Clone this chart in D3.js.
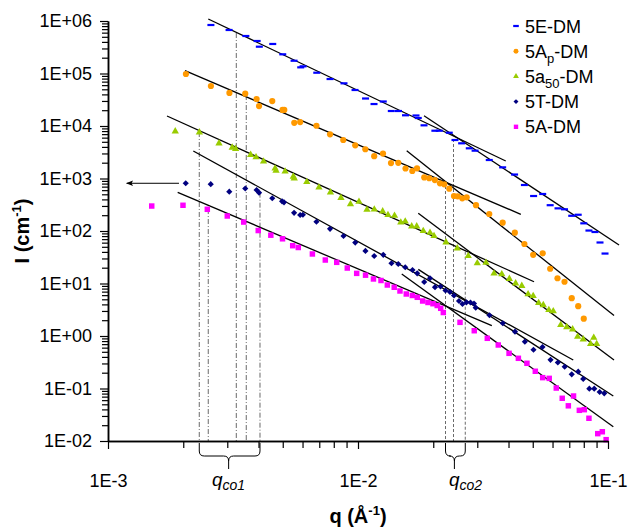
<!DOCTYPE html>
<html lang="en">
<head>
<meta charset="utf-8">
<title>saxs_loglog</title>
<script src="https://cdn.jsdelivr.net/npm/d3@7"></script>
<style>
  body { margin: 0; background: #fff; }
  svg { font-family: "Liberation Sans", Arial, sans-serif; }
</style>
</head>
<body>
<script>

// scattering curves, q in 1/Angstrom, I in 1/cm
var q5E = [2.58e-3, 3.05e-3, 3.56e-3, 3.95e-3, 4.03e-3, 4.56e-3, 5.00e-3, 5.55e-3, 5.90e-3, 6.03e-3,
    6.84e-3, 7.73e-3, 8.79e-3, 9.73e-3, 1.072e-2, 1.159e-2, 1.262e-2, 1.359e-2, 1.452e-2, 1.549e-2,
    1.706e-2, 1.742e-2, 1.837e-2, 2.03e-2, 2.114e-2, 2.318e-2, 2.443e-2, 2.598e-2, 2.787e-2, 2.94e-2,
    3.35e-2, 3.79e-2, 4.23e-2, 4.63e-2, 5.04e-2, 5.48e-2, 5.87e-2, 6.31e-2, 6.70e-2, 7.16e-2,
    7.60e-2, 8.0e-2, 8.39e-2, 8.87e-2, 9.29e-2, 9.73e-2];
var I5E = [8.39e5, 6.74e5, 5.18e5, 4.16e5, 3.24e5, 3.65e5, 2.32e5, 1.75e5, 1.31e5, 1.37e5,
    1.035e5, 7.85e4, 6.5e4, 4.85e4, 3.34e4, 2.62e4, 2.93e4, 1.93e4, 1.93e4, 1.6e4,
    1.585e4, 1.42e4, 1.03e4, 8.13e3, 8.13e3, 7.45e3, 5.41e3, 4.68e3, 3.76e3, 3.39e3,
    2.25e3, 1.63e3, 1.19e3, 752, 464, 507, 310, 270, 259, 195,
    204, 140, 102, 95.7, 60.4, 37.2];

var q5Ap = [2.05e-3, 2.58e-3, 3.06e-3, 3.54e-3, 3.93e-3, 4.02e-3, 4.54e-3, 4.99e-3, 5.07e-3, 5.56e-3,
    5.87e-3, 6.82e-3, 7.73e-3, 8.73e-3, 9.75e-3, 1.07e-2, 1.161e-2, 1.259e-2, 1.355e-2, 1.449e-2,
    1.549e-2, 1.649e-2, 1.722e-2, 1.841e-2, 1.928e-2, 2.03e-2, 2.128e-2, 2.214e-2, 2.318e-2, 2.421e-2,
    2.505e-2, 2.613e-2, 2.721e-2, 2.965e-2, 3.35e-2, 3.79e-2, 4.24e-2, 4.63e-2, 5.02e-2, 5.48e-2,
    5.87e-2, 6.28e-2, 6.70e-2, 7.16e-2, 7.60e-2, 8.0e-2];
var I5Ap = [9.78e4, 5.78e4, 4.26e4, 4.12e4, 3.27e4, 2.40e4, 2.99e4, 2.02e4, 2.02e4, 1.15e4,
    1.19e4, 1.01e4, 6.95e3, 5.41e3, 4.29e3, 3.61e3, 2.66e3, 2.99e3, 1.97e3, 1.99e3,
    1.55e3, 1.39e3, 1.56e3, 1.05e3, 1.01e3, 935, 811, 776, 640, 464,
    458, 420, 438, 310, 211, 144, 92.9, 56.5, 35.2, 37.6,
    19.1, 12.6, 10.8, 5.25, 3.70, 2.14];

var q5a50 = [1.858e-3, 2.32e-3, 2.78e-3, 3.14e-3, 3.24e-3, 3.72e-3, 3.91e-3, 4.19e-3, 4.66e-3, 4.70e-3,
    5.11e-3, 5.51e-3, 5.56e-3, 6.24e-3, 6.98e-3, 7.76e-3, 8.55e-3, 9.33e-3, 1.009e-2, 1.086e-2,
    1.162e-2, 1.255e-2, 1.318e-2, 1.400e-2, 1.483e-2, 1.545e-2, 1.640e-2, 1.717e-2, 1.824e-2, 1.941e-2,
    2.014e-2, 2.249e-2, 2.495e-2, 2.76e-2, 3.00e-2, 3.25e-2, 3.50e-2, 3.76e-2, 4.03e-2, 4.27e-2,
    4.52e-2, 4.79e-2, 5.02e-2, 5.28e-2, 5.51e-2, 5.80e-2, 6.04e-2, 6.47e-2, 6.84e-2, 7.22e-2,
    7.56e-2, 7.96e-2, 8.52e-2, 8.77e-2, 9.01e-2];
var I5a50 = [7.93e3, 7.59e3, 4.68e3, 3.89e3, 3.68e3, 2.83e3, 2.54e3, 2.11e3, 1.56e3, 1.41e3,
    1.36e3, 1.09e3, 1.01e3, 858, 674, 546, 429, 324, 361, 255,
    257, 237, 202, 196, 146, 152, 123, 123, 100, 92.8,
    80.3, 60.9, 46.8, 33.4, 24.3, 24.9, 15.6, 15.0, 12.3, 10.1,
    9.04, 6.25, 5.78, 4.25, 3.89, 3.13, 2.97, 1.62, 1.48, 1.34,
    0.97, 0.865, 0.704, 0.929, 0.704];

var q5T = [2.046e-3, 2.576e-3, 3.056e-3, 3.54e-3, 3.93e-3, 4.02e-3, 4.54e-3, 4.97e-3, 5.06e-3, 5.55e-3,
    5.87e-3, 6.02e-3, 6.82e-3, 7.73e-3, 8.75e-3, 9.75e-3, 1.071e-2, 1.161e-2, 1.262e-2, 1.361e-2,
    1.449e-2, 1.545e-2, 1.652e-2, 1.725e-2, 1.840e-2, 1.941e-2, 2.032e-2, 2.138e-2, 2.239e-2, 2.333e-2,
    2.421e-2, 2.535e-2, 2.618e-2, 2.716e-2, 2.818e-2, 2.911e-2, 2.957e-2, 3.357e-2, 3.794e-2, 4.246e-2,
    4.65e-2, 5.035e-2, 5.47e-2, 5.89e-2, 6.30e-2, 6.71e-2, 7.16e-2, 7.60e-2, 7.96e-2, 8.42e-2,
    8.81e-2, 9.26e-2, 9.66e-2];
var I5T = [811, 779, 561, 645, 604, 537, 420, 368, 352, 222,
    202, 204, 150, 110, 80.3, 60.1, 41.8, 33.4, 35.2, 24.3,
    23.5, 20.4, 18.1, 15.6, 10.7, 12.6, 8.50, 8.77, 7.36, 6.89,
    5.91, 4.64, 4.07, 4.38, 4.35, 4.16, 3.46, 2.48, 1.75, 1.21,
    0.779, 0.548, 0.617, 0.352, 0.313, 0.260, 0.186, 0.209, 0.152, 0.0991,
    0.0991, 0.0858, 0.0810];

var q5A = [1.496e-3, 1.995e-3, 2.496e-3, 3.00e-3, 3.49e-3, 3.99e-3, 4.48e-3, 4.99e-3, 5.48e-3, 5.77e-3,
    6.57e-3, 7.40e-3, 8.22e-3, 9.06e-3, 9.88e-3, 1.072e-2, 1.153e-2, 1.236e-2, 1.310e-2, 1.396e-2,
    1.472e-2, 1.560e-2, 1.649e-2, 1.726e-2, 1.814e-2, 1.905e-2, 1.995e-2, 2.074e-2, 2.142e-2, 2.194e-2,
    2.559e-2, 2.918e-2, 3.29e-2, 3.64e-2, 4.02e-2, 4.38e-2, 4.74e-2, 5.12e-2, 5.48e-2, 5.82e-2,
    6.21e-2, 6.56e-2, 6.94e-2, 7.28e-2, 7.68e-2, 8.04e-2, 8.39e-2, 9.10e-2, 9.49e-2, 9.83e-2];
var I5A = [299, 309, 259, 193, 148, 102, 83.2, 71.0, 52.5, 48.5,
    36.5, 28.0, 25.3, 19.7, 15.6, 14.4, 12.2, 11.4, 9.36, 8.47,
    7.20, 6.31, 5.91, 5.46, 4.64, 4.35, 4.12, 3.81, 3.37, 2.80,
    1.82, 1.26, 0.904, 0.674, 0.468, 0.376, 0.302, 0.213, 0.161, 0.156,
    0.102, 0.0651, 0.0468, 0.0720, 0.0384, 0.0395, 0.0271, 0.0138, 0.0150, 0.0106];

// power law fits, two per sample: [q start, I start, q end, I end]
var fitLines = [
    [2.518e-3, 1.09e6, 3.90e-2, 2154],
    [1.837e-2, 1.57e4, 0.1107, 54.1],
    [2.032e-3, 1.13e5, 4.48e-2, 208],
    [1.566e-2, 3387, 0.1057, 2.46],
    [1.722e-3, 1.55e4, 5.06e-2, 10.8],
    [1.742e-2, 217, 0.1057, 0.349],
    [2.194e-3, 3342, 7.26e-2, 0.349],
    [1.742e-2, 18.6, 0.105, 0.072],
    [1.90e-3, 546, 3.43e-2, 1.57],
    [1.496e-2, 15.2, 0.105, 0.0187]
];

// crossover positions
var qco1 = [2.318e-3, 2.518e-3, 3.26e-3, 3.573e-3, 4.055e-3];
var qco1Top = [7.69e3, 262, 5.91e5, 3.89e4, 537];
var qco2 = [2.239e-2, 2.41e-2, 2.686e-2];
var qco2Top = [719, 5.65e3, 40.3];

var arrowQ = [1.923e-3, 1.188e-3];
var arrowI = 811;

var xMajor = [1e-3, 1e-2, 1e-1];
var yMajor = [1e-2, 1e-1, 1e0, 1e1, 1e2, 1e3, 1e4, 1e5, 1e6];

var seriesNames = ["5E-DM", "5Ap-DM", "5a50-DM", "5T-DM", "5A-DM"];
var seriesColors = ["#0000ff", "#ff9900", "#99cc00", "#000080", "#ff00ff"];
var seriesShapes = ["dash", "circle", "triangle", "diamond", "square"];

var series = [
    d3.zip(q5E, I5E), d3.zip(q5Ap, I5Ap), d3.zip(q5a50, I5a50), d3.zip(q5T, I5T), d3.zip(q5A, I5A)
];

var W = 628, H = 530;
var x = d3.scaleLog().domain([1e-3, 1e-1]).range([108, 608]);
var y = d3.scaleLog().domain([1e-2, 1e6]).range([441, 21]);

var svg = d3.select("body").append("svg")
    .attr("width", W)
    .attr("height", H);

// crossover guides
var guides = svg.append("g").attr("stroke", "#444").attr("stroke-width", 0.8).attr("fill", "none");
guides.selectAll("line.co1")
    .data(d3.zip(qco1, qco1Top))
    .enter().append("line")
    .attr("class", "co1")
    .attr("x1", d => x(d[0])).attr("x2", d => x(d[0]))
    .attr("y1", d => y(d[1])).attr("y2", y(1e-2))
    .attr("stroke-dasharray", "5,2,1,2");
guides.selectAll("line.co2")
    .data(d3.zip(qco2, qco2Top))
    .enter().append("line")
    .attr("class", "co2")
    .attr("x1", d => x(d[0])).attr("x2", d => x(d[0]))
    .attr("y1", d => y(d[1])).attr("y2", y(1e-2))
    .attr("stroke-dasharray", "3,2");

// fit lines
svg.append("g").selectAll("line")
    .data(fitLines)
    .enter().append("line")
    .attr("x1", d => x(d[0])).attr("y1", d => y(d[1]))
    .attr("x2", d => x(d[2])).attr("y2", d => y(d[3]))
    .attr("stroke", "#000")
    .attr("stroke-width", 1.3);

// arrow pointing to the low-q axis
svg.append("defs").append("marker")
    .attr("id", "arr")
    .attr("viewBox", "0 0 10 10")
    .attr("refX", 9).attr("refY", 5)
    .attr("markerWidth", 8).attr("markerHeight", 7)
    .attr("markerUnits", "userSpaceOnUse")
    .attr("orient", "auto")
    .append("path")
    .attr("d", "M0,1 L10,5 L0,9 L2,5 Z")
    .attr("fill", "#000");
svg.append("line")
    .attr("x1", x(arrowQ[0])).attr("x2", x(arrowQ[1]))
    .attr("y1", y(arrowI)).attr("y2", y(arrowI))
    .attr("stroke", "#000").attr("stroke-width", 1)
    .attr("marker-end", "url(#arr)");

function marker(g, shape, color, k) {
    if (shape === "dash") {
        g.append("rect").attr("x", -3.5 * k).attr("y", -1.1).attr("width", 7 * k).attr("height", 2.2).attr("fill", color);
    } else if (shape === "circle") {
        g.append("circle").attr("r", 3.1 * k).attr("fill", color);
    } else if (shape === "triangle") {
        g.append("path").attr("d", d3.symbol(d3.symbolTriangle, 23 * k * k)).attr("fill", color);
    } else if (shape === "diamond") {
        g.append("path").attr("d", d3.symbol(d3.symbolSquare, 19 * k * k)).attr("transform", "rotate(45)").attr("fill", color);
    } else {
        g.append("path").attr("d", d3.symbol(d3.symbolSquare, 30 * k * k)).attr("fill", color);
    }
}

series.forEach(function (pts, i) {
    var g = svg.append("g");
    g.selectAll("g")
        .data(pts)
        .enter().append("g")
        .attr("transform", d => "translate(" + x(d[0]) + "," + y(d[1]) + ")")
        .each(function () { marker(d3.select(this), seriesShapes[i], seriesColors[i], 1); });
});

// axes
var fmtY = function (d) {
    var e = Math.round(Math.log10(d));
    return "1E" + (e < 0 ? "-" : "+") + String(Math.abs(e)).padStart(2, "0");
};
var fmtX = function (d) { return "1E" + Math.round(Math.log10(d)); };
var isMajor = d => Math.abs(Math.log10(d) - Math.round(Math.log10(d))) < 1e-6;

var yMinor = y.ticks().filter(d => !isMajor(d));
var xMinor = x.ticks().filter(d => !isMajor(d));

function styleAxis(g) {
    g.attr("font-family", null).attr("font-size", null);
    g.selectAll("path.domain").attr("stroke", "#000").attr("stroke-width", 1.5);
    g.selectAll(".tick line").attr("stroke", "#000").attr("stroke-width", 1.2);
    g.selectAll("text").attr("fill", "#000").style("font-size", "18px");
}

svg.append("g").attr("transform", "translate(108,0)")
    .call(d3.axisLeft(y).tickValues(yMinor).tickSize(6).tickSizeOuter(0).tickFormat(""))
    .call(styleAxis);
svg.append("g").attr("transform", "translate(108,0)")
    .call(d3.axisLeft(y).tickValues(yMajor).tickSize(8).tickSizeOuter(0).tickPadding(8).tickFormat(fmtY))
    .call(styleAxis);
svg.append("g").attr("transform", "translate(0,441)")
    .call(d3.axisBottom(x).tickValues(xMinor).tickSize(7).tickSizeOuter(0).tickFormat(""))
    .call(styleAxis);
svg.append("g").attr("transform", "translate(0,441)")
    .call(d3.axisBottom(x).tickValues(xMajor).tickSize(8).tickSizeOuter(0).tickPadding(25).tickFormat(fmtX))
    .call(styleAxis);

// braces under the crossover guides
function brace(xl, xr, xm) {
    var top = 443, mid = 456, bot = 469, r = 5;
    return "M" + xl + "," + top + " L" + xl + "," + (mid - r) +
        " Q" + xl + "," + mid + " " + (xl + r) + "," + mid +
        " L" + (xm - r) + "," + mid +
        " Q" + xm + "," + mid + " " + xm + "," + (mid + r) +
        " L" + xm + "," + bot +
        " M" + xm + "," + (mid + r) +
        " Q" + xm + "," + mid + " " + (xm + r) + "," + mid +
        " L" + (xr - r) + "," + mid +
        " Q" + xr + "," + mid + " " + xr + "," + (mid - r) +
        " L" + xr + "," + top;
}
var b1l = x(d3.min(qco1)), b1r = x(d3.max(qco1));
var b2l = x(d3.min(qco2)), b2r = x(d3.max(qco2));
svg.append("path").attr("d", brace(b1l, b1r, (b1l + b1r) / 2 - 1))
    .attr("fill", "none").attr("stroke", "#000").attr("stroke-width", 1);
svg.append("path").attr("d", brace(b2l, b2r, (b2l + b2r) / 2 - 1))
    .attr("fill", "none").attr("stroke", "#000").attr("stroke-width", 1);

function qLabel(xpos, sub) {
    var t = svg.append("text").attr("x", xpos).attr("y", 486)
        .attr("font-style", "italic").attr("font-size", 19).attr("fill", "#000");
    t.append("tspan").text("q");
    t.append("tspan").attr("dy", 4).attr("font-size", 14).text(sub);
}
qLabel(212, "co1");
qLabel(449, "co2");

// axis titles
var xt = svg.append("text").attr("x", 358).attr("y", 523)
    .attr("text-anchor", "middle").attr("font-weight", "bold").attr("font-size", 20);
xt.append("tspan").text("q (Å");
xt.append("tspan").attr("dy", -8).attr("font-size", 13).text("-1");
xt.append("tspan").attr("dy", 8).text(")");

var yt = svg.append("text").attr("transform", "translate(29,231) rotate(-90)")
    .attr("text-anchor", "middle").attr("font-weight", "bold").attr("font-size", 20);
yt.append("tspan").text("I (cm");
yt.append("tspan").attr("dy", -8).attr("font-size", 13).text("-1");
yt.append("tspan").attr("dy", 8).text(")");

// legend
var legendParts = [
    ["5E-DM", "", ""],
    ["5A", "p", "-DM"],
    ["5a", "50", "-DM"],
    ["5T-DM", "", ""],
    ["5A-DM", "", ""]
];
var leg = svg.append("g");
legendParts.forEach(function (p, i) {
    var cy = 26 + i * 25.2;
    var m = leg.append("g").attr("transform", "translate(516," + cy + ")");
    marker(m, seriesShapes[i], seriesColors[i], 0.8);
    var t = leg.append("text").attr("x", 525).attr("y", cy + 6.5).attr("font-size", 18).attr("fill", "#000");
    t.append("tspan").text(p[0]);
    if (p[1]) {
        t.append("tspan").attr("dy", 5).attr("font-size", 13).text(p[1]);
        t.append("tspan").attr("dy", -5).text(p[2]);
    }
});

</script>
</body>
</html>
